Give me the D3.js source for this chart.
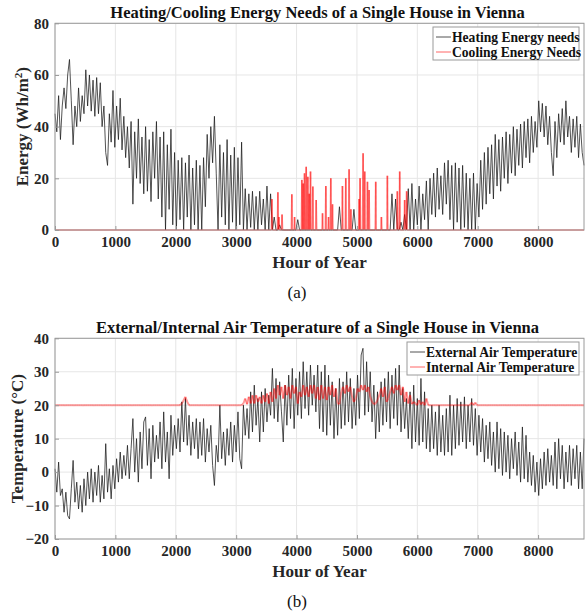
<!DOCTYPE html>
<html>
<head>
<meta charset="utf-8">
<script src="https://cdn.jsdelivr.net/npm/d3@7"></script>
<style>
  body { margin: 0; background: #fff; }
  svg text { font-family: "Liberation Serif", "Times New Roman", serif; }
</style>
</head>
<body>
<div id="chart"></div>
<script>
// hourly series, every 30 h
const sampleStep = 30;
const xTicks = [0, 1000, 2000, 3000, 4000, 5000, 6000, 7000, 8000];
const energyTicks = [0, 20, 40, 60, 80];
const tempTicks = [-20, -10, 0, 10, 20, 30, 40];

const heatNeeds = [
  45, 38, 52, 35, 48, 55, 47, 60, 66, 50,
  33, 48, 40, 55, 42, 52, 45, 62, 48, 60,
  46, 58, 44, 59, 45, 57, 40, 48, 30, 25,
  45, 34, 54, 32, 48, 35, 51, 31, 44, 28,
  40, 24, 42, 10, 38, 20, 43, 18, 36, 14,
  40, 15, 35, 11, 38, 20, 42, 12, 36, 5,
  38, 0, 33, 8, 39, 2, 30, 0, 27, 4,
  28, 0, 26, 5, 29, 0, 24, 2, 27, 0,
  25, 0, 28, 9, 37, 20, 40, 26, 44, 22,
  0, 33, 5, 30, 2, 35, 0, 29, 3, 32,
  0, 28, 2, 34, 0, 16, 0, 14, 1, 15,
  0, 13, 0, 15, 2, 12, 0, 17, 0, 14,
  0, 5, 0, 0, 2, 0, 0, 0, 0, 0,
  0, 0, 0, 0, 4, 0, 0, 0, 0, 0,
  0, 0, 0, 0, 0, 0, 0, 0, 0, 0,
  0, 0, 0, 0, 0, 0, 0, 9, 0, 0,
  0, 0, 0, 0, 0, 8, 0, 0, 0, 0,
  0, 0, 0, 0, 0, 0, 0, 0, 0, 0,
  0, 0, 0, 0, 0, 0, 14, 0, 12, 0,
  0, 3, 0, 6, 0, 16, 0, 18, 0, 12,
  2, 17, 0, 14, 4, 19, 0, 20, 6, 22,
  5, 24, 8, 21, 6, 26, 10, 27, 4, 25,
  0, 26, 3, 24, 0, 25, 1, 22, 0, 20,
  0, 22, 0, 18, 5, 27, 8, 30, 10, 32,
  14, 33, 12, 37, 17, 35, 15, 36, 20, 38,
  18, 37, 22, 40, 21, 39, 25, 41, 24, 42,
  28, 43, 26, 44, 30, 42, 32, 50, 38, 49,
  36, 48, 33, 44, 30, 21, 42, 28, 45, 34,
  47, 33, 50, 36, 44, 30, 43, 32, 44, 28,
  41, 30, 25
];

// cooling needs only appear as short spikes in summer
const coolHours = [3592, 3691, 3708, 3760, 3922, 3967, 4088, 4110, 4132, 4160, 4187, 4210, 4231, 4270, 4325,
  4430, 4485, 4530, 4567, 4595, 4760, 4815, 4870, 4900, 5036, 5052, 5102, 5129, 5174, 5201,
  5311, 5405, 5504, 5669, 5708, 5790, 5823];
const coolNeeds = [12, 14.6, 5, 6, 13.8, 5, 19.4, 18, 22, 24.5, 20.6, 14, 22.6, 16.8, 11.6,
  6.5, 17, 5, 20, 10, 17, 20, 23.5, 8, 12, 20, 29.7, 22.6, 18.7, 15.5,
  18.7, 5, 21, 15, 22.6, 11.6, 15];

const extTemp = [
  1, -6, 3, -7, -5, -12, -6, -13, -14, -5,
  3.5, -9, -3, -11, -4, -12, -2, -10, 0, -8,
  1, -9, 0, -7, 2, -9, -1, -8, 8.5, -6,
  1, -8, 2, -5, 4, -3, 6, -2, 5, -1,
  8, -2, 7, 16, 0, 10, -3, 12, 1, 15,
  16.5, 2, 13, -2, 14, 3, 11, 4, 15, 1,
  18, 3, 12, -2, 17, 5, 14, 7, 16, 6,
  21, 9, 22, 8, 17, 5, 15, 7, 16, 4,
  15, 5, 16, 3, 13, 6, 14, 2, -4, 8,
  3, 20, 4, 12, 2, 13, 5, 15, 3, 14,
  6, 18, 4, 1, 20, 11, 19, 10, 24, 12,
  26, 14, 22, 9, 24, 12, 25, 15, 23, 17,
  31, 16, 28, 15, 27, 18, 9, 26, 14, 29,
  16, 31, 13, 28, 17, 30, 16, 33, 19, 30,
  17, 32, 20, 29, 18, 32, 13, 30, 12, 32,
  11, 29, 14, 27, 10, 25, 11, 28, 13, 27,
  14, 30, 15, 28, 13, 25, 14, 29, 16, 35,
  37, 17, 33, 18, 30, 15, 26, 10, 24, 12,
  27, 14, 28, 15, 30, 13, 29, 16, 31, 14,
  32, 12, 25, 13, 22, 10, 24, 7, 26, 9,
  22, 8, 28, 9, 24, 7, 19, 6, 20, 7,
  18, 5, 20, 6, 17, 5, 19, 6, 23, 5,
  20, 7, 22, 8, 21, 9, 22.5, 7, 20, 9,
  22, 8, 19, 5, 17, 6, 16, 3, 14, 4,
  15, 2, 12, 0, 15, 1, 13, -1, 12, 0,
  11, -2, 10, 1, 12, -1, 9, -3, 13.5, -2,
  11, -3, 6, -4, 5, -6, 3, -7, 4, -5,
  6, -4, 7, -3, 5, -4, 9, -5, 10, -2,
  8, -5, 6, -3, 8, -4, 7, -2, 8, -5,
  6, -5, 10
];

const intTemp = [
  20, 20, 20, 20, 20, 20, 20, 20, 20, 20,
  20, 20, 20, 20, 20, 20, 20, 20, 20, 20,
  20, 20, 20, 20, 20, 20, 20, 20, 20, 20,
  20, 20, 20, 20, 20, 20, 20, 20, 20, 20,
  20, 20, 20, 20, 20, 20, 20, 20, 20, 20,
  20, 20, 20, 20, 20, 20, 20, 20, 20, 20,
  20, 20, 20, 20, 20, 20, 20, 20, 20, 20,
  20.5, 21.5, 22.5, 21, 20, 20, 20, 20, 20, 20,
  20, 20, 20, 20, 20, 20, 20, 20, 20, 20,
  20, 20, 20, 20, 20, 20, 20, 20, 20, 20,
  20, 20, 20, 20, 20.5, 22, 20.3, 22.5, 20.5, 23,
  20.5, 23, 21, 22.5, 20.5, 23, 21, 23.5, 20.5, 24,
  21, 25, 22, 26, 23, 25.5, 22, 26, 23, 25.5,
  22, 26, 23.5, 25.5, 20.5, 24, 22.5, 26, 23, 25.5,
  22.5, 26, 23.5, 26, 22, 25.5, 21.5, 26, 22, 25.5,
  21.5, 25.5, 23, 26, 22.5, 25, 20.5, 20.3, 24, 25.5,
  23.5, 26, 24, 25.5, 22.5, 21, 22, 25, 24, 26,
  24.5, 26, 24, 25.5, 22.5, 21, 20.3, 20.5, 21.5, 23,
  25, 22.5, 25.5, 21, 22, 24, 25.5, 23.5, 26, 24.5,
  26, 23, 25.5, 21, 24, 20.5, 23, 20.3, 21, 20.5,
  20, 21.5, 20.2, 21, 20, 22, 20, 20, 20, 20,
  20, 20, 20, 20, 20, 20, 20, 20, 20, 20,
  20, 20, 20, 20, 20, 20, 20, 20, 20, 20,
  20.8, 20, 20.8, 20, 20, 20, 20, 20, 20, 20,
  20, 20, 20, 20, 20, 20, 20, 20, 20, 20,
  20, 20, 20, 20, 20, 20, 20, 20, 20, 20,
  20, 20, 20, 20, 20, 20, 20, 20, 20, 20,
  20, 20, 20, 20, 20, 20, 20, 20, 20, 20,
  20, 20, 20, 20, 20, 20, 20, 20, 20, 20,
  20, 20, 20
];

const W = 588, H = 612;
const svg = d3.select("#chart").append("svg")
  .attr("width", W).attr("height", H);

const x = d3.scaleLinear().domain([0, 8760]).range([55, 584]);

function toPoints(values) {
  return values.map((v, i) => [i * sampleStep, v]);
}

function spikePoints(hours, values) {
  // zero baseline through the year, with a narrow spike for every cooling event
  const pts = [[0, 0]];
  hours.forEach((h, i) => {
    pts.push([h - 8, 0], [h, values[i]], [h + 8, 0]);
  });
  pts.push([8760, 0]);
  return pts;
}

function drawPanel(opt) {
  const y = d3.scaleLinear().domain(opt.yDomain).range([opt.bottom, opt.top]);
  const g = svg.append("g");

  // grid
  g.selectAll(".vgrid").data(xTicks).enter().append("line")
    .attr("x1", d => x(d)).attr("x2", d => x(d))
    .attr("y1", opt.top).attr("y2", opt.bottom)
    .attr("stroke", "#e6e6e6").attr("stroke-width", 1);
  g.selectAll(".hgrid").data(opt.yTicks).enter().append("line")
    .attr("x1", x(0)).attr("x2", x(8760))
    .attr("y1", d => y(d)).attr("y2", d => y(d))
    .attr("stroke", "#e6e6e6").attr("stroke-width", 1);

  const line = d3.line().x(d => x(d[0])).y(d => y(d[1]));

  opt.series.forEach(s => {
    if (s.segments) {
      // separate segments so that overlapping strokes build up, like the original render
      g.append("g").selectAll("path")
        .data(d3.pairs(s.points))
        .enter().append("path")
        .attr("d", line)
        .attr("fill", "none")
        .attr("stroke", s.color)
        .attr("stroke-opacity", s.opacity)
        .attr("stroke-width", s.width);
    } else {
      g.append("path")
        .datum(s.points)
        .attr("d", line)
        .attr("fill", "none")
        .attr("stroke", s.color)
        .attr("stroke-opacity", s.opacity)
        .attr("stroke-width", s.width)
        .attr("stroke-linejoin", "round");
    }
  });

  // frame
  g.append("rect")
    .attr("x", x(0)).attr("y", opt.top)
    .attr("width", x(8760) - x(0)).attr("height", opt.bottom - opt.top)
    .attr("fill", "none").attr("stroke", "#9a9a9a").attr("stroke-width", 1);

  // axes
  const xAxis = g.append("g")
    .attr("transform", `translate(0,${opt.bottom})`)
    .call(d3.axisBottom(x).tickValues(xTicks).tickSize(-4).tickPadding(6).tickFormat(d3.format("d")));
  const yAxis = g.append("g")
    .attr("transform", `translate(${x(0)},0)`)
    .call(d3.axisLeft(y).tickValues(opt.yTicks).tickSize(-4).tickPadding(6).tickFormat(d3.format("d")));
  [xAxis, yAxis].forEach(a => {
    a.select(".domain").remove();
    a.selectAll(".tick line").attr("stroke", "#9a9a9a");
    a.selectAll(".tick text")
      .attr("fill", "#262626")
      .style("font-family", "'Liberation Serif', serif")
      .style("font-weight", "bold")
      .style("font-size", "15px");
  });

  // title
  g.append("text")
    .attr("x", (x(0) + x(8760)) / 2 - 2).attr("y", opt.top - 5)
    .attr("text-anchor", "middle")
    .style("font-weight", "bold").style("font-size", "16.5px")
    .attr("fill", "#111")
    .text(opt.title);

  // x label
  g.append("text")
    .attr("x", (x(0) + x(8760)) / 2).attr("y", opt.bottom + 38)
    .attr("text-anchor", "middle")
    .style("font-weight", "bold").style("font-size", "17px")
    .attr("fill", "#262626")
    .text("Hour of Year");

  // y label
  const yl = g.append("text")
    .attr("transform", `translate(${opt.yLabelX},${(opt.top + opt.bottom) / 2}) rotate(-90)`)
    .attr("text-anchor", "middle")
    .style("font-weight", "bold").style("font-size", "17px")
    .attr("fill", "#262626");
  opt.yLabel(yl);

  // panel tag
  g.append("text")
    .attr("x", 297).attr("y", opt.tagY)
    .attr("text-anchor", "middle")
    .style("font-size", "17px")
    .attr("fill", "#111")
    .text(opt.tag);

  // legend
  const lg = opt.legend;
  g.append("rect")
    .attr("x", lg.x).attr("y", lg.y).attr("width", lg.w).attr("height", 33)
    .attr("fill", "#fff").attr("stroke", "#9a9a9a").attr("stroke-width", 1);
  opt.series.filter(s => s.label).forEach((s, i) => {
    const ly = lg.y + 10 + i * 15;
    g.append("line")
      .attr("x1", lg.x + 3).attr("x2", lg.x + 18)
      .attr("y1", ly).attr("y2", ly)
      .attr("stroke", s.color).attr("stroke-opacity", s.legendOpacity).attr("stroke-width", 1);
    g.append("text")
      .attr("x", lg.x + 19).attr("y", ly + 5)
      .style("font-weight", "bold").style("font-size", "13.6px")
      .attr("fill", "#111")
      .text(s.label);
  });
}

drawPanel({
  top: 23.3, bottom: 230, yDomain: [0, 80], yTicks: energyTicks,
  title: "Heating/Cooling Energy Needs of a Single House in Vienna",
  yLabelX: 28,
  yLabel: t => {
    t.append("tspan").text("Energy (Wh/m");
    t.append("tspan").text("2").attr("dy", -6).style("font-size", "11px");
    t.append("tspan").text(")").attr("dy", 6);
  },
  tag: "(a)", tagY: 298,
  legend: { x: 433, y: 27, w: 146 },
  series: [
    { points: toPoints(heatNeeds), color: "#1a1a1a", opacity: 0.75, width: 1, legendOpacity: 0.75, label: "Heating Energy needs" },
    { points: spikePoints(coolHours, coolNeeds), color: "#ff0000", opacity: 0.45, width: 1.6, segments: true, legendOpacity: 0.6, label: "Cooling Energy Needs" }
  ]
});

drawPanel({
  top: 338.3, bottom: 539, yDomain: [-20, 40], yTicks: tempTicks,
  title: "External/Internal Air Temperature of a Single House in Vienna",
  yLabelX: 23,
  yLabel: t => t.text("Temperature (°C)"),
  tag: "(b)", tagY: 607,
  legend: { x: 407, y: 342, w: 172 },
  series: [
    { points: toPoints(extTemp), color: "#1a1a1a", opacity: 0.75, width: 1, legendOpacity: 0.75, label: "External Air Temperature" },
    { points: toPoints(intTemp), color: "#ff0000", opacity: 0.4, width: 2, segments: true, legendOpacity: 0.6, label: "Internal Air Temperature" }
  ]
});
</script>
</body>
</html>
